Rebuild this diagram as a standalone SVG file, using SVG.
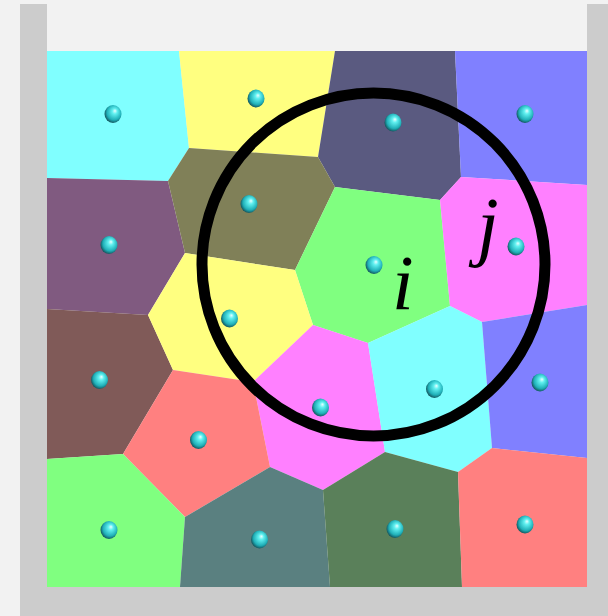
<svg xmlns="http://www.w3.org/2000/svg" width="608" height="616" viewBox="0 0 608 616">
<style>
.frame{fill:#cccccc}
.ball{fill:url(#ballGrad)}
.lbl{font-family:"Liberation Serif","DejaVu Serif",serif;font-style:italic;font-size:78px;fill:#000}
polygon{stroke:none}
</style>
<defs>
<radialGradient id="ballGrad" cx="0.55" cy="0.45" r="0.6" fx="0.62" fy="0.32">
<stop offset="0" stop-color="#e8ffff"/>
<stop offset="0.25" stop-color="#60f0f0"/>
<stop offset="0.7" stop-color="#20b0b8"/>
<stop offset="1" stop-color="#104048"/>
</radialGradient>
</defs>
<rect x="0" y="0" width="608" height="616" fill="#f2f2f2"/>
<rect class="frame" x="20" y="4" width="27" height="612"/>
<rect class="frame" x="587" y="4" width="21" height="612"/>
<rect class="frame" x="20" y="587" width="588" height="29"/>
<g id="cells">
<g id="c-cyan-tl"><polygon fill="#80ffff" points="47,51 179,51 189,148 168,181 47,178"/></g>
<g id="c-yellow-top"><polygon fill="#ffff80" points="179,51 335,51 318,157 189,148"/></g>
<g id="c-slate"><polygon fill="#5a5a80" points="335,51 455,51 461,177 440,200 335,187 318,157"/></g>
<g id="c-blue-tr"><polygon fill="#8080ff" points="455,51 587,51 587,185 461,177"/></g>
<g id="c-purple"><polygon fill="#805a80" points="47,178 168,181 185,253 148,315 47,309"/></g>
<g id="c-olive"><polygon fill="#808058" points="168,181 189,148 318,157 335,187 295,270 185,253"/></g>
<g id="c-green-i"><polygon fill="#80ff80" points="335,187 440,200 450,306 368,343 313,325 295,270"/></g>
<g id="c-pink-j"><polygon fill="#ff80ff" points="440,200 461,177 587,185 587,305 482,322 450,306"/></g>
<g id="c-brown"><polygon fill="#805a58" points="47,309 148,315 173,370 123,454 47,459"/></g>
<g id="c-yellow-mid"><polygon fill="#ffff80" points="185,253 295,270 313,325 253,382 173,370 148,315"/></g>
<g id="c-pink-bot"><polygon fill="#ff80ff" points="313,325 368,343 385,452 323,490 270,467 253,382"/></g>
<g id="c-cyan-mid"><polygon fill="#80ffff" points="450,306 482,322 492,448 458,472 385,452 368,343"/></g>
<g id="c-blue-r"><polygon fill="#8080ff" points="482,322 587,305 587,458 492,448"/></g>
<g id="c-salmon-l"><polygon fill="#ff8080" points="173,370 253,382 270,467 185,517 123,454"/></g>
<g id="c-green-bl"><polygon fill="#80ff80" points="47,459 123,454 185,517 180,587 47,587"/></g>
<g id="c-teal"><polygon fill="#5a8080" points="270,467 323,490 330,587 180,587 185,517"/></g>
<g id="c-darkgreen"><polygon fill="#5a805a" points="385,452 458,472 462,587 330,587 323,490"/></g>
<g id="c-salmon-br"><polygon fill="#ff8080" points="492,448 587,458 587,587 462,587 458,472"/></g>
</g>
<g id="balls">
<ellipse class="ball" cx="113" cy="114" rx="8.5" ry="9"/>
<ellipse class="ball" cx="256" cy="98.5" rx="8.5" ry="9"/>
<ellipse class="ball" cx="393" cy="122.5" rx="8.5" ry="9"/>
<ellipse class="ball" cx="525" cy="114" rx="8.5" ry="9"/>
<ellipse class="ball" cx="249" cy="204" rx="8.5" ry="9"/>
<ellipse class="ball" cx="109" cy="245" rx="8.5" ry="9"/>
<ellipse class="ball" cx="374" cy="265" rx="8.5" ry="9"/>
<ellipse class="ball" cx="516" cy="246.5" rx="8.5" ry="9"/>
<ellipse class="ball" cx="229.5" cy="318.5" rx="8.5" ry="9"/>
<ellipse class="ball" cx="99.5" cy="380" rx="8.5" ry="9"/>
<ellipse class="ball" cx="320.5" cy="407.5" rx="8.5" ry="9"/>
<ellipse class="ball" cx="434.5" cy="389" rx="8.5" ry="9"/>
<ellipse class="ball" cx="540" cy="382.5" rx="8.5" ry="9"/>
<ellipse class="ball" cx="198.5" cy="440" rx="8.5" ry="9"/>
<ellipse class="ball" cx="109" cy="530" rx="8.5" ry="9"/>
<ellipse class="ball" cx="259.5" cy="539.5" rx="8.5" ry="9"/>
<ellipse class="ball" cx="395" cy="529" rx="8.5" ry="9"/>
<ellipse class="ball" cx="525" cy="524.5" rx="8.5" ry="9"/>
</g>
<g id="connectors">
<circle cx="373.5" cy="264.5" r="171.5" fill="none" stroke="#000" stroke-width="11"/>
</g>
<g id="labels">
<text class="lbl" x="392" y="309">i</text>
<text class="lbl" x="477" y="251">j</text>
</g>
</svg>
